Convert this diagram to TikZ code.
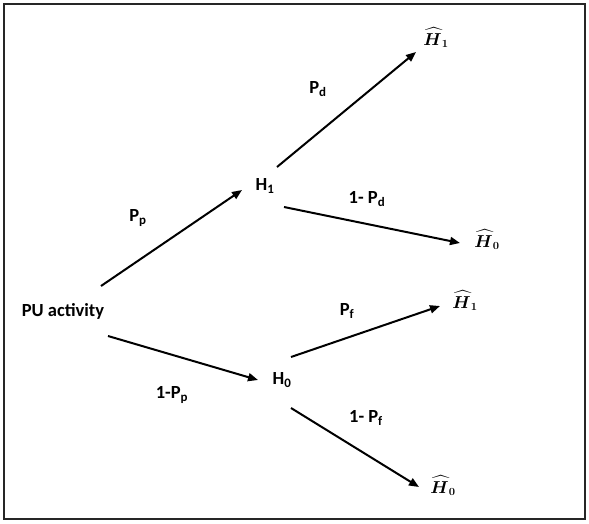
\documentclass[tikz,border=0pt]{standalone}
\usepackage{amsmath}
\usepackage{fontspec}
\setmainfont{Carlito}
\usetikzlibrary{arrows.meta}
\begin{document}
\begin{tikzpicture}[x=1pt,y=-1pt,
  lbl/.style={font=\fontsize{18.5}{22}\selectfont\bfseries, inner sep=0pt},
  hat/.style={font=\fontsize{16}{19}\selectfont, inner sep=0pt},
  arr/.style={line width=2pt, -{Triangle[length=10pt,width=8pt]}}]
\useasboundingbox (0,0) rectangle (589,523);
\draw[line width=1.3pt, draw=black!85] (4,4) rectangle (585,519);
% nodes
\node[lbl] (pu) at (63,311) {PU activity};
\node[lbl] (h1) at (265,186) {H\textsubscript{1}};
\node[lbl] (h0) at (282,380) {H\textsubscript{0}};
\node[hat] (t1) at (436,38) {$\boldsymbol{\widehat{H}}_{\boldsymbol{1}}$};
\node[hat] (t0) at (487,240) {$\boldsymbol{\widehat{H}}_{\boldsymbol{0}}$};
\node[hat] (b1) at (465,301) {$\boldsymbol{\widehat{H}}_{\boldsymbol{1}}$};
\node[hat] (b0) at (443,486) {$\boldsymbol{\widehat{H}}_{\boldsymbol{0}}$};
% labels
\node[lbl] (lpp) at (138,218) {P\textsubscript{p}};
\node[lbl] (lnpp) at (172,395) {1-P\textsubscript{p}};
\node[lbl] (lpd) at (318,89) {P\textsubscript{d}};
\node[lbl] (lnpd) at (367,199) {1- P\textsubscript{d}};
\node[lbl] (lpf) at (347,311) {P\textsubscript{f}};
\node[lbl] (lnpf) at (366,418) {1- P\textsubscript{f}};
% connector ends
\coordinate (a1) at (101,286); \coordinate (a2) at (242,190);
\coordinate (b1s) at (108,336); \coordinate (b2) at (258,380);
\coordinate (c1) at (277,167); \coordinate (c2) at (416,52);
\coordinate (d1) at (284,207); \coordinate (d2) at (460,243);
\coordinate (e1) at (291,357); \coordinate (e2) at (440,306);
\coordinate (f1) at (291,408); \coordinate (f2) at (419,487);
\draw[arr] (a1) -- (a2);
\draw[arr] (b1s) -- (b2);
\draw[arr] (c1) -- (c2);
\draw[arr] (d1) -- (d2);
\draw[arr] (e1) -- (e2);
\draw[arr] (f1) -- (f2);
\end{tikzpicture}
\end{document}
